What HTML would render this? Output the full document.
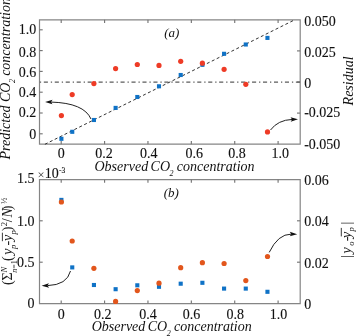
<!DOCTYPE html><html><head><meta charset="utf-8"><style>html,body{margin:0;padding:0;background:#fff;width:357px;height:336px;overflow:hidden}svg{display:block;will-change:transform}</style></head><body><svg width="357" height="336" viewBox="0 0 357 336">
<rect width="357" height="336" fill="#fff"/>
<path d="M39.5 19.8H300.2V144.2H39.5Z" fill="none" stroke="#858585" stroke-width="1.2"/>
<path d="M39.5 179.6H300.2V303.6H39.5Z" fill="none" stroke="#858585" stroke-width="1.2"/>
<path d="M61.20 144.2v-3.2M61.20 19.8v3.2" stroke="#767676" stroke-width="1.15"/>
<path d="M104.58 144.2v-3.2M104.58 19.8v3.2" stroke="#767676" stroke-width="1.15"/>
<path d="M147.96 144.2v-3.2M147.96 19.8v3.2" stroke="#767676" stroke-width="1.15"/>
<path d="M191.34 144.2v-3.2M191.34 19.8v3.2" stroke="#767676" stroke-width="1.15"/>
<path d="M234.72 144.2v-3.2M234.72 19.8v3.2" stroke="#767676" stroke-width="1.15"/>
<path d="M278.10 144.2v-3.2M278.10 19.8v3.2" stroke="#767676" stroke-width="1.15"/>
<path d="M61.20 303.6v-3.2M61.20 179.6v3.2" stroke="#767676" stroke-width="1.15"/>
<path d="M104.58 303.6v-3.2M104.58 179.6v3.2" stroke="#767676" stroke-width="1.15"/>
<path d="M147.96 303.6v-3.2M147.96 179.6v3.2" stroke="#767676" stroke-width="1.15"/>
<path d="M191.34 303.6v-3.2M191.34 179.6v3.2" stroke="#767676" stroke-width="1.15"/>
<path d="M234.72 303.6v-3.2M234.72 179.6v3.2" stroke="#767676" stroke-width="1.15"/>
<path d="M278.10 303.6v-3.2M278.10 179.6v3.2" stroke="#767676" stroke-width="1.15"/>
<path d="M39.5 133.8h3.2" stroke="#767676" stroke-width="1.15"/>
<path d="M39.5 113.0h3.2" stroke="#767676" stroke-width="1.15"/>
<path d="M39.5 92.2h3.2" stroke="#767676" stroke-width="1.15"/>
<path d="M39.5 71.4h3.2" stroke="#767676" stroke-width="1.15"/>
<path d="M39.5 50.6h3.2" stroke="#767676" stroke-width="1.15"/>
<path d="M39.5 29.8h3.2" stroke="#767676" stroke-width="1.15"/>
<path d="M300.2 50.9h-3.2" stroke="#767676" stroke-width="1.15"/>
<path d="M300.2 82.0h-3.2" stroke="#767676" stroke-width="1.15"/>
<path d="M300.2 113.1h-3.2" stroke="#767676" stroke-width="1.15"/>
<path d="M39.5 262.2h3.2" stroke="#767676" stroke-width="1.15"/>
<path d="M39.5 220.8h3.2" stroke="#767676" stroke-width="1.15"/>
<path d="M300.2 262.2h-3.2" stroke="#767676" stroke-width="1.15"/>
<path d="M300.2 220.8h-3.2" stroke="#767676" stroke-width="1.15"/>
<path d="M39.5 82.1H300" stroke="#5c5c5c" stroke-width="1.15" stroke-dasharray="4.1 2.9 1.3 2.66" stroke-dashoffset="6.66"/>
<path d="M44.9 144.3L294.75 19.8" stroke="#333" stroke-width="1" stroke-dasharray="3.0 2.484"/>
<rect x="59.35" y="136.75" width="4.1" height="4.1" fill="#0f72c6"/>
<rect x="70.20" y="129.75" width="4.1" height="4.1" fill="#0f72c6"/>
<rect x="91.89" y="117.95" width="4.1" height="4.1" fill="#0f72c6"/>
<rect x="113.58" y="105.85" width="4.1" height="4.1" fill="#0f72c6"/>
<rect x="135.26" y="94.95" width="4.1" height="4.1" fill="#0f72c6"/>
<rect x="156.95" y="84.25" width="4.1" height="4.1" fill="#0f72c6"/>
<rect x="178.65" y="72.95" width="4.1" height="4.1" fill="#0f72c6"/>
<rect x="200.34" y="62.75" width="4.1" height="4.1" fill="#0f72c6"/>
<rect x="222.03" y="51.75" width="4.1" height="4.1" fill="#0f72c6"/>
<rect x="243.72" y="42.45" width="4.1" height="4.1" fill="#0f72c6"/>
<rect x="265.40" y="35.85" width="4.1" height="4.1" fill="#0f72c6"/>
<circle cx="61.4" cy="115.6" r="2.6" fill="#ee3b26"/>
<circle cx="72.2" cy="94.6" r="2.6" fill="#ee3b26"/>
<circle cx="93.9" cy="83.6" r="2.6" fill="#ee3b26"/>
<circle cx="115.6" cy="68.6" r="2.6" fill="#ee3b26"/>
<circle cx="137.3" cy="64.5" r="2.6" fill="#ee3b26"/>
<circle cx="159.0" cy="65.4" r="2.6" fill="#ee3b26"/>
<circle cx="180.7" cy="61.3" r="2.6" fill="#ee3b26"/>
<circle cx="202.4" cy="63.2" r="2.6" fill="#ee3b26"/>
<circle cx="224.1" cy="69.3" r="2.6" fill="#ee3b26"/>
<circle cx="245.8" cy="84.3" r="2.6" fill="#ee3b26"/>
<circle cx="267.5" cy="131.9" r="2.6" fill="#ee3b26"/>
<rect x="59.35" y="197.85" width="4.1" height="4.1" fill="#0f72c6"/>
<rect x="70.20" y="265.35" width="4.1" height="4.1" fill="#0f72c6"/>
<rect x="91.89" y="282.95" width="4.1" height="4.1" fill="#0f72c6"/>
<rect x="113.58" y="287.15" width="4.1" height="4.1" fill="#0f72c6"/>
<rect x="135.26" y="283.25" width="4.1" height="4.1" fill="#0f72c6"/>
<rect x="156.95" y="284.75" width="4.1" height="4.1" fill="#0f72c6"/>
<rect x="178.65" y="281.65" width="4.1" height="4.1" fill="#0f72c6"/>
<rect x="200.34" y="280.75" width="4.1" height="4.1" fill="#0f72c6"/>
<rect x="222.03" y="286.55" width="4.1" height="4.1" fill="#0f72c6"/>
<rect x="243.72" y="286.55" width="4.1" height="4.1" fill="#0f72c6"/>
<rect x="265.40" y="289.75" width="4.1" height="4.1" fill="#0f72c6"/>
<circle cx="61.4" cy="202.0" r="2.6" fill="#e2561c"/>
<circle cx="72.2" cy="241.0" r="2.6" fill="#e2561c"/>
<circle cx="93.9" cy="268.3" r="2.6" fill="#e2561c"/>
<circle cx="115.6" cy="301.4" r="2.6" fill="#e2561c"/>
<circle cx="137.3" cy="290.6" r="2.6" fill="#e2561c"/>
<circle cx="159.0" cy="283.2" r="2.6" fill="#e2561c"/>
<circle cx="180.7" cy="267.7" r="2.6" fill="#e2561c"/>
<circle cx="202.4" cy="262.7" r="2.6" fill="#e2561c"/>
<circle cx="224.1" cy="263.5" r="2.6" fill="#e2561c"/>
<circle cx="245.8" cy="280.6" r="2.6" fill="#e2561c"/>
<circle cx="267.5" cy="256.5" r="2.6" fill="#e2561c"/>
<path d="M91 119Q84 103 51.02 102.07" fill="none" stroke="#222" stroke-width="1"/>
<path d="M45.1 101.9L52.56 99.86L51.02 102.07L52.43 104.36Z" fill="#111"/>
<path d="M270.5 130Q278 120 292.08 119.44" fill="none" stroke="#222" stroke-width="1"/>
<path d="M298 119.2L290.70 121.74L292.08 119.44L290.52 117.25Z" fill="#111"/>
<path d="M70.5 271Q67 285 47.52 285.61" fill="none" stroke="#222" stroke-width="1"/>
<path d="M41.6 285.8L48.93 283.32L47.52 285.61L49.07 287.82Z" fill="#111"/>
<path d="M269.2 252.4Q278 234 291.28 234.14" fill="none" stroke="#222" stroke-width="1"/>
<path d="M297.2 234.2L289.78 236.37L291.28 234.14L289.82 231.87Z" fill="#111"/>
<text x="36.3" y="139.1" text-anchor="end" font-family="Liberation Serif, serif" font-size="14" fill="#111" stroke="#111" stroke-width="0.12">0</text>
<text x="36.3" y="117.3" text-anchor="end" font-family="Liberation Serif, serif" font-size="14" fill="#111" stroke="#111" stroke-width="0.12">0.2</text>
<text x="36.3" y="97.1" text-anchor="end" font-family="Liberation Serif, serif" font-size="14" fill="#111" stroke="#111" stroke-width="0.12">0.4</text>
<text x="36.3" y="77.1" text-anchor="end" font-family="Liberation Serif, serif" font-size="14" fill="#111" stroke="#111" stroke-width="0.12">0.6</text>
<text x="36.3" y="57.1" text-anchor="end" font-family="Liberation Serif, serif" font-size="14" fill="#111" stroke="#111" stroke-width="0.12">0.8</text>
<text x="36.3" y="34.0" text-anchor="end" font-family="Liberation Serif, serif" font-size="14" fill="#111" stroke="#111" stroke-width="0.12">1.0</text>
<text x="304.2" y="25.9" font-family="Liberation Serif, serif" font-size="14" fill="#111" stroke="#111" stroke-width="0.12">0.050</text>
<text x="304.2" y="56.7" font-family="Liberation Serif, serif" font-size="14" fill="#111" stroke="#111" stroke-width="0.12">0.025</text>
<text x="304.2" y="87.8" font-family="Liberation Serif, serif" font-size="14" fill="#111" stroke="#111" stroke-width="0.12">0</text>
<text x="304.2" y="117.4" font-family="Liberation Serif, serif" font-size="14" fill="#111" stroke="#111" stroke-width="0.12">-0.025</text>
<text x="304.2" y="148.8" font-family="Liberation Serif, serif" font-size="14" fill="#111" stroke="#111" stroke-width="0.12">-0.050</text>
<text x="61.2" y="157.8" text-anchor="middle" font-family="Liberation Serif, serif" font-size="14" fill="#111" stroke="#111" stroke-width="0.12">0</text>
<text x="104.1" y="157.8" text-anchor="middle" font-family="Liberation Serif, serif" font-size="14" fill="#111" stroke="#111" stroke-width="0.12">0.2</text>
<text x="148.8" y="157.8" text-anchor="middle" font-family="Liberation Serif, serif" font-size="14" fill="#111" stroke="#111" stroke-width="0.12">0.4</text>
<text x="194.3" y="157.8" text-anchor="middle" font-family="Liberation Serif, serif" font-size="14" fill="#111" stroke="#111" stroke-width="0.12">0.6</text>
<text x="236.9" y="157.8" text-anchor="middle" font-family="Liberation Serif, serif" font-size="14" fill="#111" stroke="#111" stroke-width="0.12">0.8</text>
<text x="280.3" y="157.8" text-anchor="middle" font-family="Liberation Serif, serif" font-size="14" fill="#111" stroke="#111" stroke-width="0.12">1.0</text>
<text x="61.2" y="318.6" text-anchor="middle" font-family="Liberation Serif, serif" font-size="14" fill="#111" stroke="#111" stroke-width="0.12">0</text>
<text x="102.8" y="318.6" text-anchor="middle" font-family="Liberation Serif, serif" font-size="14" fill="#111" stroke="#111" stroke-width="0.12">0.2</text>
<text x="147.9" y="318.6" text-anchor="middle" font-family="Liberation Serif, serif" font-size="14" fill="#111" stroke="#111" stroke-width="0.12">0.4</text>
<text x="191.5" y="318.6" text-anchor="middle" font-family="Liberation Serif, serif" font-size="14" fill="#111" stroke="#111" stroke-width="0.12">0.6</text>
<text x="235.3" y="318.6" text-anchor="middle" font-family="Liberation Serif, serif" font-size="14" fill="#111" stroke="#111" stroke-width="0.12">0.8</text>
<text x="278.4" y="318.6" text-anchor="middle" font-family="Liberation Serif, serif" font-size="14" fill="#111" stroke="#111" stroke-width="0.12">1.0</text>
<text x="34.4" y="308.3" text-anchor="end" font-family="Liberation Serif, serif" font-size="14" fill="#111" stroke="#111" stroke-width="0.12">0</text>
<text x="34.4" y="266.9" text-anchor="end" font-family="Liberation Serif, serif" font-size="14" fill="#111" stroke="#111" stroke-width="0.12">0.5</text>
<text x="34.4" y="225.8" text-anchor="end" font-family="Liberation Serif, serif" font-size="14" fill="#111" stroke="#111" stroke-width="0.12">1.0</text>
<text x="34.4" y="183.3" text-anchor="end" font-family="Liberation Serif, serif" font-size="14" fill="#111" stroke="#111" stroke-width="0.12">1.5</text>
<text x="304.3" y="308.5" font-family="Liberation Serif, serif" font-size="14" fill="#111" stroke="#111" stroke-width="0.12">0</text>
<text x="304.3" y="267.9" font-family="Liberation Serif, serif" font-size="14" fill="#111" stroke="#111" stroke-width="0.12">0.02</text>
<text x="304.3" y="226.4" font-family="Liberation Serif, serif" font-size="14" fill="#111" stroke="#111" stroke-width="0.12">0.04</text>
<text x="304.3" y="184.5" font-family="Liberation Serif, serif" font-size="14" fill="#111" stroke="#111" stroke-width="0.12">0.06</text>
<text x="37.6" y="179" font-family="Liberation Serif, serif" font-size="12.5" fill="#333">×</text>
<text x="44.7" y="177.6" font-family="Liberation Serif, serif" font-size="14" fill="#111" stroke="#111" stroke-width="0.12">10</text>
<text x="58.9" y="172.6" font-family="Liberation Serif, serif" font-size="7.5" fill="#111" stroke="#111" stroke-width="0.12">-3</text>
<text x="164.2" y="36.6" font-family="Liberation Serif, serif" font-style="italic" font-size="13" fill="#111">(a)</text>
<text x="163.7" y="196.7" font-family="Liberation Serif, serif" font-style="italic" font-size="13" fill="#111">(b)</text>
<text x="94.5" y="170.7" font-family="Liberation Serif, serif" font-style="italic" font-size="14" fill="#111">Observed <tspan dx="-1.1">CO</tspan><tspan font-size="8" dx="-0.4" dy="4.9">2</tspan><tspan dx="-0.3" dy="-4.9"> concentration</tspan></text>
<text x="91.7" y="331.3" font-family="Liberation Serif, serif" font-style="italic" font-size="14" fill="#111">Observed <tspan dx="-1.1">CO</tspan><tspan font-size="8" dx="-0.4" dy="4.9">2</tspan><tspan dx="-0.3" dy="-4.9"> concentration</tspan></text>
<text transform="translate(10.4 159.5) rotate(-90)" font-family="Liberation Serif, serif" font-style="italic" font-size="14" fill="#111">Predicted CO<tspan font-size="8" dx="-0.4" dy="4.9">2</tspan><tspan dx="-0.3" dy="-4.9"> concentration</tspan></text>
<text transform="translate(352.9 105.4) rotate(-90)" font-family="Liberation Serif, serif" font-style="italic" font-size="14" fill="#111">Residual</text>
<g transform="translate(11.8 284.5) rotate(-90)" font-family="Liberation Serif, serif" fill="#222" font-size="14">
<text x="-0.4" y="0">(</text>
<text x="4.0" y="0">Σ</text>
<text x="12.0" y="-4.8" font-size="8.5" font-style="italic">N</text>
<text x="11.8" y="5.4" font-size="8"><tspan font-style="italic">n</tspan>=1</text>
<text x="23.6" y="0">(</text>
<text x="29.7" y="0" font-style="italic">y</text>
<text x="35.5" y="3.8" font-size="8.5" font-style="italic">p</text>
<text x="38.9" y="0">-</text>
<text x="43.6" y="0" font-style="italic">y</text>
<path d="M43.3 -9.4H51.8" stroke="#222" stroke-width="0.9"/>
<text x="50.0" y="3.8" font-size="8.5" font-style="italic">p</text>
<text x="53.2" y="0">)</text>
<text x="58.2" y="-5" font-size="8.5">2</text>
<text x="62.2" y="0">/</text>
<text x="67.0" y="0" font-style="italic">N</text>
<text x="74.2" y="0">)</text>
<text x="80.4" y="-5" font-size="8.5">½</text>
</g>
<g transform="translate(350.9 257.0) rotate(-90)" font-family="Liberation Serif, serif" fill="#222" font-size="14">
<text x="-1.0" y="0">|</text>
<text x="3.6" y="0" font-style="italic">y</text>
<text x="11.2" y="3.4" font-size="8.5" font-style="italic">o</text>
<text x="15.8" y="0">-</text>
<text x="19.0" y="0" font-style="italic">y</text>
<path d="M20.6 -9.6H29.1" stroke="#222" stroke-width="0.9"/>
<text x="25.6" y="3.4" font-size="8.5" font-style="italic">p</text>
<text x="32.4" y="0">|</text>
</g>
</svg></body></html>
